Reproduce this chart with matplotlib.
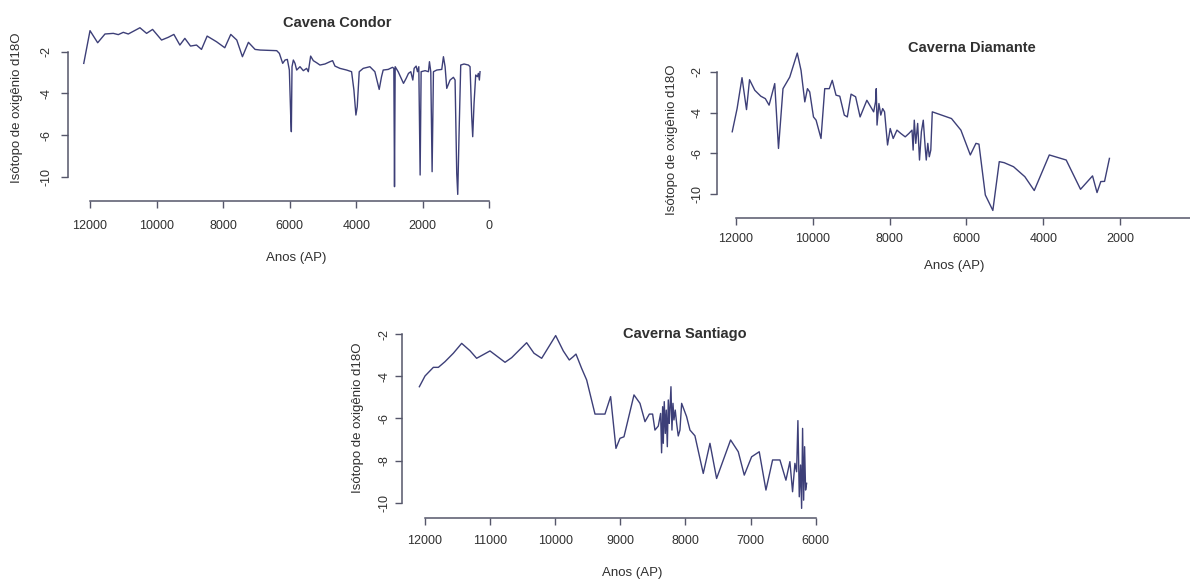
import matplotlib.pyplot as plt

plt.rcParams['font.family'] = ['Liberation Sans', 'DejaVu Sans']

# Cavena Condor (anos AP, d18O na escala do eixo)
condor_anos = [12188, 12000, 11770, 11550, 11300, 11150, 11000, 10850, 10500, 10300,
               10120, 9850, 9650, 9480, 9300, 9150, 8980, 8800, 8650, 8480,
               8200, 7950, 7770, 7590, 7420, 7240, 7040, 6890, 6390, 6310,
               6210, 6140, 6070, 6010, 5970, 5950, 5930, 5890, 5840, 5790,
               5690, 5590, 5490, 5440, 5370, 5290, 5190, 5090, 4940, 4790,
               4710, 4640, 4490, 4290, 4140, 4070, 4010, 3970, 3910, 3790,
               3590, 3440, 3310, 3240, 3190, 3040, 2910, 2870, 2850, 2830,
               2740, 2580, 2500, 2430, 2360, 2300, 2260, 2200, 2160, 2120,
               2080, 2050, 1930, 1830, 1800, 1760, 1720, 1680, 1580, 1430,
               1380, 1330, 1280, 1180, 1080, 1030, 980, 950, 910, 860,
               760, 630, 580, 530, 500, 460, 410, 360, 330, 300, 280]
condor_d18o = [-2.56, -0.99, -1.57, -1.15, -1.12, -1.18, -1.07, -1.15, -0.85, -1.12,
               -0.93, -1.44, -1.31, -1.17, -1.68, -1.36, -1.73, -1.68, -1.89, -1.25,
               -1.52, -1.81, -1.17, -1.44, -2.24, -1.55, -1.89, -1.92, -1.95, -2.08,
               -2.56, -2.40, -2.37, -2.88, -5.04, -5.84, -2.72, -2.40, -2.56, -2.88,
               -2.72, -2.91, -2.80, -2.96, -2.21, -2.43, -2.53, -2.64, -2.59, -2.48,
               -2.43, -2.69, -2.80, -2.88, -2.96, -3.84, -5.04, -4.64, -2.96, -2.80,
               -2.72, -2.96, -3.81, -3.20, -2.88, -2.85, -2.75, -2.80, -8.48, -2.72,
               -2.96, -3.52, -3.28, -3.04, -2.96, -3.36, -2.80, -2.69, -2.96, -2.72,
               -7.92, -2.96, -2.91, -2.96, -2.48, -2.96, -7.76, -2.96, -2.88, -2.85,
               -2.24, -2.72, -3.76, -3.36, -3.23, -3.36, -7.84, -8.85, -5.92, -2.64,
               -2.59, -2.64, -2.72, -5.12, -6.08, -4.48, -3.12, -3.20, -3.04, -3.36, -2.96]

# Caverna Diamante
diamante_anos = [12098, 11971, 11843, 11726, 11647, 11510, 11354, 11236, 11138, 10991,
                 10893, 10776, 10600, 10404, 10306, 10208, 10139, 10080, 9982, 9914,
                 9786, 9689, 9571, 9493, 9395, 9297, 9179, 9101, 9003, 8885,
                 8768, 8592, 8415, 8366, 8347, 8327, 8278, 8229, 8180, 8131,
                 8053, 7984, 7906, 7808, 7710, 7593, 7495, 7416, 7387, 7357,
                 7318, 7269, 7221, 7172, 7123, 7074, 7045, 7005, 6966, 6927,
                 6888, 6388, 6143, 5898, 5751, 5673, 5507, 5311, 5144, 5017,
                 4772, 4478, 4233, 3841, 3401, 3028, 2715, 2598, 2500, 2402, 2275]
diamante_d18o = [-4.94, -3.80, -2.28, -3.85, -2.38, -2.90, -3.19, -3.31, -3.63, -2.57,
                 -5.76, -2.82, -2.25, -1.07, -1.92, -3.47, -2.82, -2.98, -4.21, -4.37,
                 -5.27, -2.82, -2.82, -2.41, -3.14, -3.19, -4.12, -4.21, -3.09, -3.22,
                 -4.21, -3.39, -3.96, -3.47, -2.82, -4.61, -3.55, -4.12, -3.80, -3.96,
                 -5.59, -4.78, -5.27, -4.86, -5.02, -5.19, -5.02, -4.86, -5.84, -4.37,
                 -5.51, -4.53, -6.33, -4.94, -4.37, -5.68, -6.33, -5.51, -6.17, -5.84,
                 -3.96, -4.29, -4.86, -6.08, -5.51, -5.55, -8.05, -8.81, -6.41, -6.46,
                 -6.66, -7.15, -7.83, -6.08, -6.33, -7.77, -7.11, -7.93, -7.39, -7.38, -6.25]

# Caverna Santiago
santiago_anos = [12087, 12000, 11872, 11795, 11693, 11565, 11437, 11309, 11207, 11002,
                 10771, 10669, 10439, 10326, 10208, 9993, 9876, 9784, 9722, 9681,
                 9594, 9517, 9389, 9236, 9149, 9067, 9005, 8944, 8790, 8698,
                 8621, 8554, 8504, 8468, 8417, 8381, 8366, 8350, 8340, 8325,
                 8309, 8294, 8278, 8263, 8248, 8237, 8222, 8207, 8191, 8176,
                 8156, 8135, 8110, 8084, 8058, 7982, 7930, 7854, 7726, 7623,
                 7521, 7306, 7188, 7096, 6983, 6866, 6763, 6661, 6548, 6456,
                 6395, 6354, 6318, 6292, 6272, 6251, 6231, 6215, 6200, 6184, 6169, 6154, 6138]
santiago_d18o = [-4.49, -3.98, -3.57, -3.57, -3.30, -2.90, -2.43, -2.78, -3.14, -2.79,
                 -3.33, -3.11, -2.40, -2.90, -3.14, -2.06, -2.79, -3.22, -3.06, -2.94,
                 -3.62, -4.17, -5.79, -5.79, -4.96, -7.42, -6.94, -6.87, -4.88, -5.28,
                 -6.15, -5.79, -5.79, -6.55, -6.36, -5.76, -7.63, -5.44, -7.18, -5.20,
                 -6.71, -5.60, -7.34, -5.12, -6.23, -5.52, -4.49, -6.55, -5.28, -6.07,
                 -5.60, -6.23, -6.83, -6.55, -5.28, -5.91, -6.55, -6.82, -8.61, -7.18,
                 -8.85, -7.02, -7.58, -8.69, -7.82, -7.58, -9.40, -7.97, -7.97, -8.93,
                 -8.05, -9.48, -8.13, -8.53, -6.10, -9.72, -8.21, -10.27, -6.47, -9.88,
                 -7.34, -9.40, -9.08]

# ticks
ticks_y_4 = [-2, -4, -6, -8]
labels_y_4 = ['-2', '-4', '-6', '-10']   # como no original: ultimo rotulo "-10"
ticks_y_5 = [-2, -4, -6, -8, -10]
labels_y_5 = ['-2', '-4', '-6', '-8', '-10']
ticks_x_condor = [12000, 10000, 8000, 6000, 4000, 2000, 0]
ticks_x_diamante = [12000, 10000, 8000, 6000, 4000, 2000]
ticks_x_santiago = [12000, 11000, 10000, 9000, 8000, 7000, 6000]

W, H = 1190, 579
LINE = '#3d3f78'
AXC = '#55566a'
TXT = '#303030'

fig = plt.figure(figsize=(W / 100, H / 100), dpi=100)


def add_ax(l, t, r, b):
    return fig.add_axes([l / W, 1 - b / H, (r - l) / W, (b - t) / H])


def panel(ax, anos, vals, xlim, ylim, xticks, xbounds, yticks, ylabels,
          left_off, bot_off, xpad, ypad):
    ax.plot(anos, vals, color=LINE, lw=1.0)
    ax.set_xlim(xlim)
    ax.set_ylim(ylim)
    ax.patch.set_alpha(0)
    for s in ['top', 'right']:
        ax.spines[s].set_visible(False)
    ax.spines['left'].set_position(('outward', left_off * 0.72))
    ax.spines['bottom'].set_position(('outward', bot_off * 0.72))
    ax.spines['left'].set_bounds(min(yticks), max(yticks))
    ax.spines['bottom'].set_bounds(*xbounds)
    for s in ['left', 'bottom']:
        ax.spines[s].set_color(AXC)
        ax.spines[s].set_linewidth(1.1)
    ax.set_xticks(xticks)
    ax.set_xticklabels([str(t) for t in xticks])
    ax.set_yticks(yticks)
    ax.set_yticklabels(ylabels, rotation=90, va='center')
    ax.tick_params(axis='both', direction='out', length=5, width=1.0,
                   color=AXC, labelcolor=TXT, labelsize=9)
    ax.tick_params(axis='x', pad=xpad)
    ax.tick_params(axis='y', pad=ypad)


def ftext(x, y, s, **kw):
    fig.text(x / W, 1 - y / H, s, ha='center', va='center', color=TXT, **kw)


# Cavena Condor
ax1 = add_ax(78, 22, 500, 197)
panel(ax1, condor_anos, condor_d18o, (12361, -320), (-8.975, -0.574),
      ticks_x_condor, (0, 12000), ticks_y_4, labels_y_4, 9.7, 4, 9.0, 6.5)
ftext(337, 23, 'Cavena Condor', fontsize=10.5, fontweight='bold')
ftext(296, 258, 'Anos (AP)', fontsize=9.5)
ftext(17, 108, 'Isótopo de oxigênio d18O', fontsize=9.5, rotation=90)

# Caverna Diamante (eixo x continua ate a borda direita)
ax2 = add_ax(727, 45, 1190, 214)
panel(ax2, diamante_anos, diamante_d18o, (12234, 177), (-8.985, -0.672),
      ticks_x_diamante, (0, 12000), ticks_y_4, labels_y_4, 10, 4, 5.6, 4.4)
ftext(972, 48, 'Caverna Diamante', fontsize=10.5, fontweight='bold')
ftext(954, 266, 'Anos (AP)', fontsize=9.5)
ftext(672, 140, 'Isótopo de oxigênio d18O', fontsize=9.5, rotation=90)

# Caverna Santiago
ax3 = add_ax(412, 325, 830, 513)
panel(ax3, santiago_anos, santiago_d18o, (12200, 5779), (-10.49, -1.558),
      ticks_x_santiago, (6000, 12000), ticks_y_5, labels_y_5, 10.3, 4.7, 7.8, 3.0)
ftext(685, 334, 'Caverna Santiago', fontsize=10.5, fontweight='bold')
ftext(632, 573, 'Anos (AP)', fontsize=9.5)
ftext(358, 418, 'Isótopo de oxigênio d18O', fontsize=9.5, rotation=90)

fig.savefig('out.png', dpi=100)
